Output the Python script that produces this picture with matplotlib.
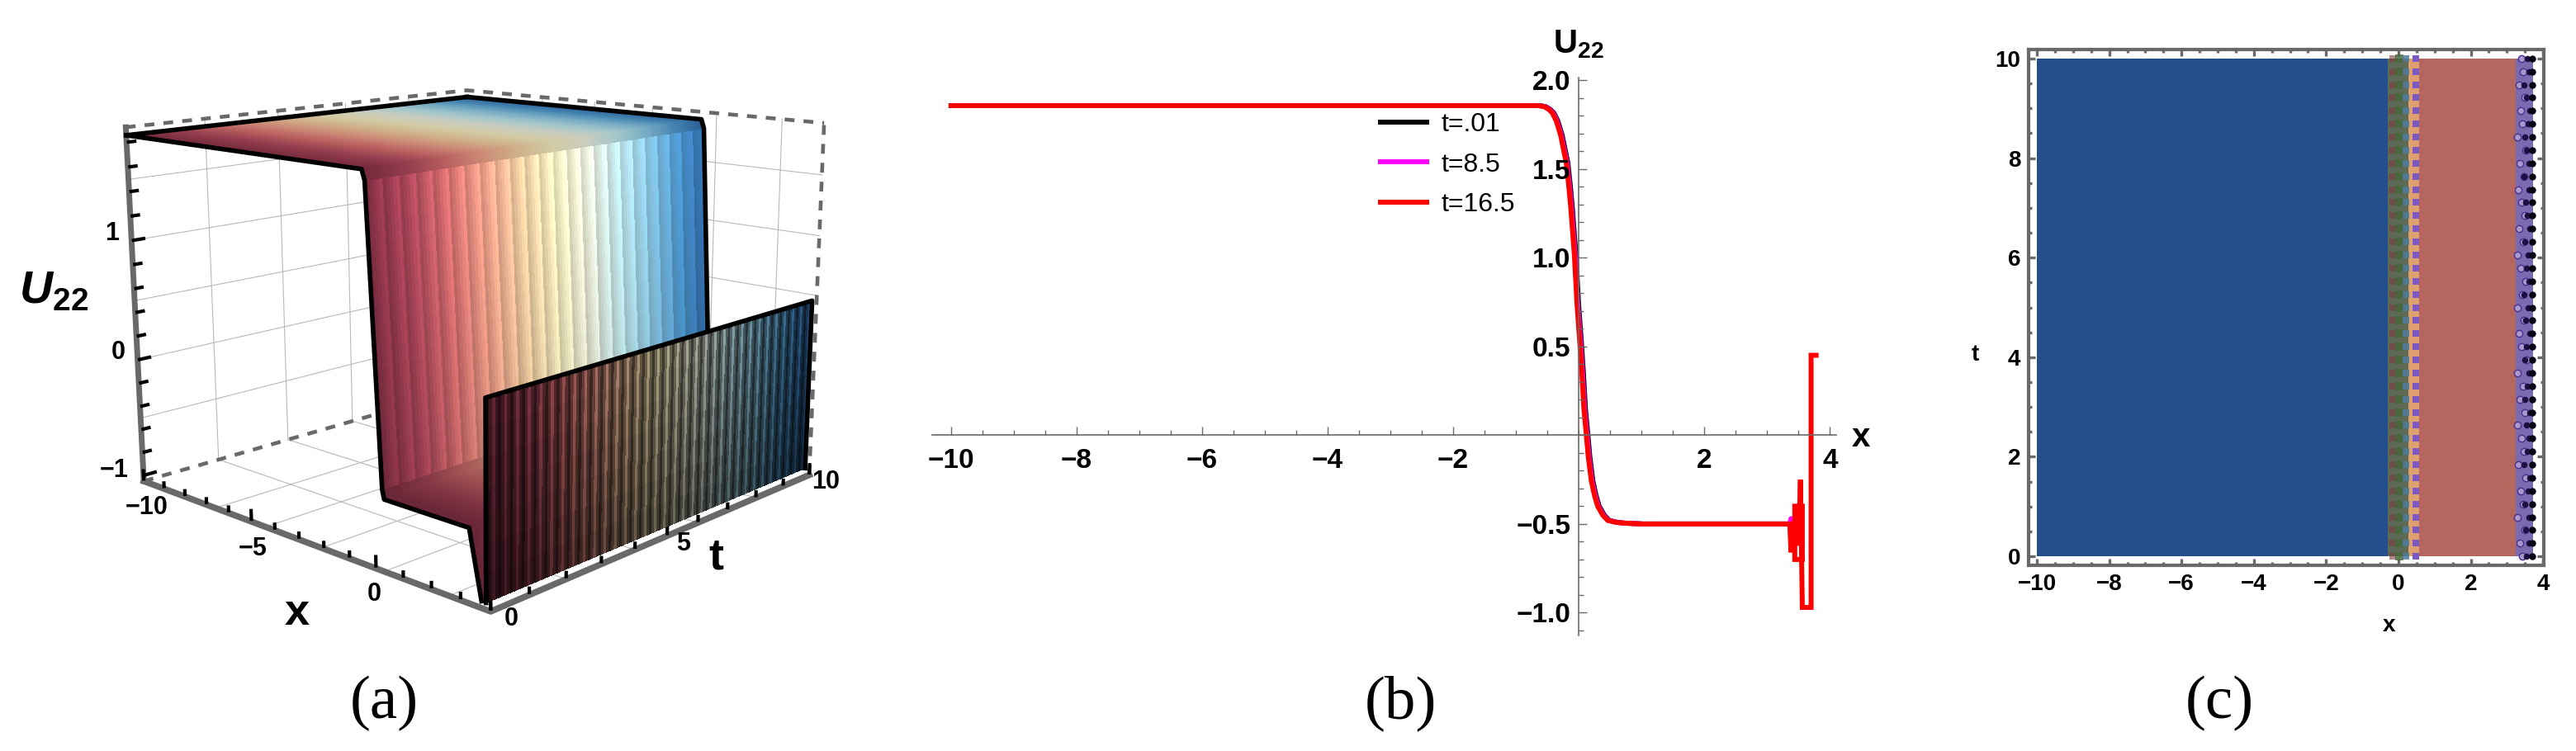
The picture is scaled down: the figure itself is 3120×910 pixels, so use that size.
import numpy as np
import matplotlib
matplotlib.use('Agg')
from matplotlib import pyplot as plt
from matplotlib.colors import LinearSegmentedColormap, ListedColormap
from matplotlib.ticker import MultipleLocator

W, H = 3120, 910
GREY = '#696969'

plt.rcParams['font.family'] = ['Liberation Sans', 'DejaVu Sans']
plt.rcParams['mathtext.fontset'] = 'custom'
plt.rcParams['mathtext.rm'] = 'Liberation Sans:bold'
plt.rcParams['mathtext.bf'] = 'Liberation Sans:bold'
plt.rcParams['mathtext.bfit'] = 'Liberation Sans:italic:bold'

# profile of U22
x_profile = [-10, -8, -6, -4, -2, -1, -0.64, -0.55, -0.48, -0.42, -0.36, -0.29, -0.25, -0.2, -0.165, -0.13, -0.07, -0.03,
             0.02, 0.05, 0.08, 0.12, 0.15, 0.2, 0.25, 0.3, 0.38, 0.46, 0.58, 0.7, 1, 2, 3, 3.3]
u_profile = [1.856, 1.856, 1.856, 1.856, 1.856, 1.856, 1.856, 1.85, 1.835, 1.814, 1.77, 1.69, 1.62, 1.535, 1.42, 1.29, 1.01, 0.745,
             0.5, 0.34, 0.15, 0.0, -0.12, -0.26, -0.34, -0.4, -0.45, -0.48, -0.49, -0.495, -0.5, -0.5, -0.5, -0.5]
x_tail_black = [3.42]
u_tail_black = [-0.5]
x_tail_magenta = [3.36, 3.38, 3.40, 3.42]
u_tail_magenta = [-0.5, -0.47, -0.53, -0.5]
x_tail_red = [3.36, 3.38, 3.40, 3.44, 3.44, 3.56, 3.56, 3.44, 3.44, 3.50, 3.53, 3.56, 3.70, 3.70, 3.78]
u_tail_red = [-0.5, -0.66, -0.5, -0.5, -0.70, -0.70, -0.40, -0.40, -0.55, -0.62, -0.25, -0.97, -0.97, 0.45, 0.45]
legend_labels = ['t=.01', 't=8.5', 't=16.5']

# panel (a), the surface is coarser than the curves
x_box = (-10, 4)
t_box = (0, 10)
z_box = (-1.05, 1.92)
x_surface = [-10, -0.25, -0.15, 0.28, 0.35, 3.3, 3.7]
u_surface = [1.856, 1.856, 1.78, -0.43, -0.5, -0.5, -1.0]
x_sheet = 3.85
u_sheet = (-1.0, 0.45)
x_grid_a = [-6.6, -4.4, -2.1, 0.3, 2.6]
t_grid_a = [2, 4, 6, 8]
z_grid_a = [-0.5, 0, 0.5, 1, 1.5]
surface_colors = ['#8a3248', '#b0485c', '#dc7272', '#f4a68e', '#f6d3a6', '#faf2c4',
                  '#f0f3e2', '#c3ecf2', '#8ccbe8', '#4f9ad2', '#2f6cae']
stripe_wall = [0.86, 0.91, 0.96, 1.01, 1.05]
stripe_front = [0.24, 0.42, 0.66, 0.38]

# panel (c)
c_edges = [-10, -0.3, 0.27, 0.57, 3.24, 3.72]
c_colors = ['#254e8c', '#5d6a55', '#dfa071', '#b5675f', '#7a6ab0']
mess_open = [3.42, 3.35, 3.5, 3.3, 3.45, 3.38, 3.52, 3.32, 3.47, 3.4, 3.28, 3.5, 3.36, 3.44, 3.3, 3.53, 3.41, 3.34, 3.48, 3.3,
             3.43, 3.52, 3.37, 3.29, 3.46, 3.33, 3.5, 3.4, 3.31, 3.47, 3.36, 3.52, 3.29, 3.43, 3.38, 3.5, 3.33, 3.45, 3.4]
mess_dark = [3.55, 3.6, 3.52, 3.62, 3.5, 3.58, 3.63, 3.48, 3.56, 3.6, 3.53, 3.64, 3.5, 3.57, 3.61, 3.49, 3.55, 3.63, 3.52, 3.59,
             3.47, 3.62, 3.54, 3.58, 3.5, 3.64, 3.56, 3.51, 3.6, 3.48, 3.62, 3.55, 3.5, 3.59, 3.63, 3.53, 3.47, 3.6, 3.56]


def px_rect(left, top, right, bottom):
    return [left / W, 1 - bottom / H, (right - left) / W, (bottom - top) / H]


def px_text(x, y, s, **kw):
    kw.setdefault('ha', 'center')
    kw.setdefault('va', 'center')
    return fig.text(x / W, 1 - y / H, s, **kw)


fig = plt.figure(figsize=(W / 100, H / 100), dpi=100)

# ---- panel (a)
ax = fig.add_axes([0, 0, H / W, 1], projection='3d', computed_zorder=False)
ax.set_xlim(*x_box)
ax.set_ylim(*t_box)
ax.set_zlim(*z_box)
ax.set_axis_off()
ax.view_init(elev=12.987, azim=-46.324, roll=0.24)
ax.set_proj_type('persp', focal_length=0.416)
ax.set_box_aspect((1.015, 1, 0.757))

# place the axes so the projected box lands where it is in the picture
ax.apply_aspect()
(x0, y0), (x1, y1) = ax.transData.transform([[0, 0], [1, 1]])
k = 4905.2 / (x1 - x0)
ax.set_position([(577.5 - x0 * k) / W, (H - 370.6 - y0 * k) / H, H * k / W, k])

cmap_t = LinearSegmentedColormap.from_list('t_tones', surface_colors)

# grid on the floor and back walls
grid_kw = dict(color='#b8b8b8', lw=0.8, zorder=1)
for xg in x_grid_a:
    ax.plot([xg, xg], [0, 10], [z_box[0]] * 2, **grid_kw)
    ax.plot([xg, xg], [10, 10], z_box, **grid_kw)
for tg in t_grid_a:
    ax.plot([-10, 4], [tg, tg], [z_box[0]] * 2, **grid_kw)
    ax.plot([-10, -10], [tg, tg], z_box, **grid_kw)
for zg in z_grid_a:
    ax.plot([-10, -10], [0, 10], [zg, zg], **grid_kw)
    ax.plot([-10, 4], [10, 10], [zg, zg], **grid_kw)

# box edges
dash = (0, (2.6, 2.4))
ax.plot([-10, -10, 4], [0, 10, 10], [z_box[1]] * 3, color=GREY, lw=3.3, ls=dash, zorder=1.5)
ax.plot([-10, -10], [0, 10], [z_box[0]] * 2, color=GREY, lw=3.3, ls=dash, zorder=1.5)
ax.plot([4, 4], [10, 10], z_box, color=GREY, lw=3.3, ls=dash, zorder=1.5)
ax.plot([-10, -10], [0, 0], z_box, color=GREY, lw=5, zorder=1.6)
ax.plot([-10, 4, 4], [0, 0, 10], [z_box[0]] * 3, color=GREY, lw=5.5, zorder=1.6)

# ticks
for v in range(-10, 5):
    ax.plot([v, v], [0, 0], [z_box[0] + 0.02, z_box[0] + (0.09 if v % 5 == 0 else 0.05)], color='k', lw=3, zorder=1.7)
for v in range(0, 11):
    ax.plot([4, 4], [v, v], [z_box[0] + 0.02, z_box[0] + (0.09 if v % 5 == 0 else 0.05)], color='k', lw=3, zorder=1.7)
for v in np.arange(-1, 1.9, 0.2):
    ax.plot([-10, -10], [0.05, 0.3 if abs(v - round(v)) < 0.01 else 0.2], [v, v], color='k', lw=3, zorder=1.7)

# wall and plateau: same mesh lines as the coarse surface, split finer only for the shading
x_rows = np.unique(np.r_[x_surface, np.linspace(-10, -0.25, 12), np.linspace(-0.15, 0.28, 16), np.linspace(0.35, 3.3, 8)])
u_rows = np.interp(x_rows, x_surface, u_surface)
on_wall = (x_rows >= -0.15) & (x_rows < 0.28)
shade_rows = np.where(on_wall, 0.9 + 0.14 * (u_rows + 0.43) / 2.21, np.where(x_rows < 0, 0.84, 0.74))
stripe_amount = np.where(on_wall, 1.0, 0.0)
t_wall = np.linspace(0, 10, 121)
colors_wall = cmap_t(t_wall / 10)[:, :3]
stripes = np.resize(stripe_wall, t_wall.size)
X, T = np.meshgrid(x_rows, t_wall, indexing='ij')
Z = np.tile(u_rows[:, None], (1, t_wall.size))
shade = shade_rows[:, None] * (1 + stripe_amount[:, None] * (stripes[None, :] - 1))
face = colors_wall[None, :, :] * shade[:, :, None]
ax.plot(x_surface, [10] * len(x_surface), u_surface, color='k', lw=4, zorder=2.5)
ax.plot_surface(X, T, Z, facecolors=np.clip(face, 0, 1), rstride=1, cstride=1, shade=False, linewidth=0,
                antialiased=False, zorder=2)

# jagged sheet at the right end
z_front = np.linspace(u_sheet[0], u_sheet[1], 8)
shade_front = np.linspace(0.65, 1.08, 8)
t_front = np.linspace(0, 10, 133)
colors_front = cmap_t(t_front / 10)[:, :3]
X, T = np.meshgrid([x_sheet] * z_front.size, t_front, indexing='ij')
Z = np.tile(z_front[:, None], (1, t_front.size))
face = colors_front[None, :, :] * shade_front[:, None, None] * np.resize(stripe_front, t_front.size)[None, :, None]
ax.plot_surface(X, T, Z, facecolors=np.clip(face, 0, 1), rstride=1, cstride=1, shade=False, linewidth=0,
                antialiased=False, zorder=3)

ax.plot(x_surface, [0] * len(x_surface), u_surface, color='k', lw=4, zorder=4)
ax.plot([-10, -10], [0, 10], [u_surface[0]] * 2, color='k', lw=4, zorder=4)
ax.plot([x_sheet] * 4, [0, 0, 10, 10], [u_sheet[0], u_sheet[1], u_sheet[1], u_sheet[0]], color='k', lw=4, zorder=4)

for x, y, label in [(136, 283, '1'), (143, 427, '0'), (138, 570, '\u22121'), (178, 615, '\u221210'), (306, 665, '\u22125'),
                    (453, 720, '0'), (619, 750, '0'), (828, 659, '5'), (1000, 584, '10')]:
    px_text(x, y, label, fontsize=22, fontweight='bold')
px_text(360, 743, 'x', fontsize=39, fontweight='bold')
px_text(867, 675, 't', fontsize=39, fontweight='bold')
px_text(65, 353, r'$\mathbfit{U}_{\mathbf{22}}$', fontsize=40)
px_text(465, 852, '(a)', fontsize=54, family='Liberation Serif')

# ---- panel (b)
axb = fig.add_axes(px_rect(1129, 94, 2224, 770))
axb.set_xlim(-10.3, 4.1)
axb.set_ylim(-1.128, 2.014)
axb.patch.set_alpha(0)
axb.set_axisbelow(False)
x_prof = np.array(x_profile)
axb.plot(np.r_[x_prof + 0.025, x_tail_black], np.r_[u_profile, u_tail_black], color='k', lw=4.3, label=legend_labels[0])
axb.plot(np.r_[x_prof + 0.012, x_tail_magenta], np.r_[u_profile, u_tail_magenta], color='#ff00ff', lw=4.3, label=legend_labels[1])
axb.plot(np.r_[x_prof, x_tail_red], np.r_[u_profile, u_tail_red], color='#ff0000', lw=4.3, solid_joinstyle='miter',
         label=legend_labels[2])
for side in ('top', 'right'):
    axb.spines[side].set_visible(False)
for side in ('left', 'bottom'):
    axb.spines[side].set_position(('data', 0))
    axb.spines[side].set_color(GREY)
    axb.spines[side].set_linewidth(1.2)
axb.set_xticks([-10, -8, -6, -4, -2, 2, 4], ['\u221210', '\u22128', '\u22126', '\u22124', '\u22122', '2', '4'], fontsize=24, fontweight='bold')
axb.set_yticks([-1, -0.5, 0.5, 1, 1.5, 2], ['\u22121.0', '\u22120.5', '0.5', '1.0', '1.5', '2.0'], fontsize=24, fontweight='bold')
axb.xaxis.set_minor_locator(MultipleLocator(0.5))
axb.yaxis.set_minor_locator(MultipleLocator(0.1))
axb.tick_params(which='major', direction='in', length=7.5, width=1, color=GREY, pad=11)
axb.tick_params(which='minor', direction='in', length=4.5, width=1, color=GREY)
axb.tick_params(axis='y', pad=7)
axb.legend(loc='upper left', bbox_to_anchor=(1672 / W, 1 - 136 / H), bbox_transform=fig.transFigure, frameon=False,
           fontsize=23, handlelength=1.75, handletextpad=0.55, labelspacing=0.58, borderpad=0, borderaxespad=0)
px_text(1912, 54, r'$\mathbf{U}_{\mathbf{22}}$', fontsize=29)
px_text(2254, 530, 'x', fontsize=29, fontweight='bold')
px_text(1696, 852, '(b)', fontsize=54, family='Liberation Serif')

# ---- panel (c)
axc = fig.add_axes(px_rect(2457, 60, 3081, 685))
axc.set_xlim(-10.23, 4.02)
axc.set_ylim(-0.18, 10.18)
axc.pcolormesh(c_edges, [0, 10], [np.arange(len(c_colors))], cmap=ListedColormap(c_colors), shading='flat')
t_rows = np.linspace(0, 10, 39)
axc.scatter([-0.15] * 39, t_rows, s=34, marker='s', color='#7a3c3c', alpha=0.6, linewidths=0, zorder=2)
axc.scatter([0.02] * 39, t_rows, s=42, marker='s', color='#46683a', alpha=0.85, linewidths=0, zorder=2)
axc.scatter([0.2] * 39, t_rows, s=30, marker='s', color='#4f7a9a', alpha=0.85, linewidths=0, zorder=2)
axc.scatter([0.48] * 39, t_rows, s=30, marker='s', color='#7a5ac0', linewidths=0, zorder=2)
axc.scatter(mess_open, t_rows, s=36, facecolors='#a898cc', edgecolors='#4a2f90', linewidths=1, zorder=2)
axc.scatter(mess_dark, t_rows, s=30, color='#1c0f45', linewidths=0, zorder=3)
axc.scatter([3.7] * 39, t_rows, s=36, color='#05030f', linewidths=0, zorder=4)
for side in axc.spines.values():
    side.set_color(GREY)
    side.set_linewidth(3)
axc.set_xticks(range(-10, 5, 2), ['\u221210', '\u22128', '\u22126', '\u22124', '\u22122', '0', '2', '4'], fontsize=20, fontweight='bold')
axc.set_yticks(range(0, 11, 2), [str(v) for v in range(0, 11, 2)], fontsize=20, fontweight='bold')
axc.xaxis.set_minor_locator(MultipleLocator(0.5))
axc.yaxis.set_minor_locator(MultipleLocator(0.5))
axc.tick_params(which='major', direction='in', top=True, right=True, length=5.5, width=2.4, color=GREY, pad=7)
axc.tick_params(which='minor', direction='in', top=True, right=True, length=3, width=2.4, color=GREY)
px_text(2893, 758, 'x', fontsize=20, fontweight='bold')
px_text(2392, 430, 't', fontsize=20, fontweight='bold')
px_text(2688, 852, '(c)', fontsize=54, family='Liberation Serif')

fig.savefig('out.png', dpi=100)
